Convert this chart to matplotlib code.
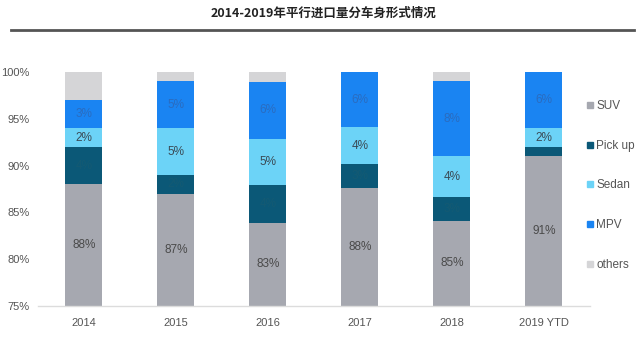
import matplotlib
matplotlib.use("Agg")
import matplotlib.pyplot as plt
from matplotlib.lines import Line2D
import numpy as np

plt.rcParams['font.family'] = ['Liberation Sans', 'Noto Sans CJK SC', 'DejaVu Sans']

categories = ["2014", "2015", "2016", "2017", "2018", "2019 YTD"]
series_names = ["SUV", "Pick up", "Sedan", "MPV", "others"]
suv = [88, 87, 83.9, 87.6, 84.1, 91]
pickup = [4, 2, 4, 2.6, 2.5, 1]
sedan = [2, 5, 5, 3.9, 4.4, 2]
mpv = [3, 5, 6, 5.9, 8, 6]
others = [3, 1, 1.1, 0, 1, 0]

suv_labels = ["88%", "87%", "83%", "88%", "85%", "91%"]
pickup_labels = ["4%", "2%", "4%", "3%", "3%", ""]
sedan_labels = ["2%", "5%", "5%", "4%", "4%", "2%"]
mpv_labels = ["3%", "5%", "6%", "6%", "8%", "6%"]
yticks = [75, 80, 85, 90, 95, 100]
title = "2014-2019年平行进口量分车身形式情况"

colors = ["#a6a8b0", "#0b5877", "#6cd3f7", "#1a84f2", "#d5d5d7"]
label_colors = ["#4a4a4a", "#145a73", "#3a4a55", "#2a6cc0", "#888888"]

fig = plt.figure(figsize=(6.4, 3.4), dpi=100)
ax = fig.add_axes([0.059, 0.10, 0.8625, 0.688])

x = np.arange(len(categories))
data = [suv, pickup, sedan, mpv, others]
labels = [suv_labels, pickup_labels, sedan_labels, mpv_labels, None]
bottom = np.zeros(len(categories))
for vals, col, labs, lc in zip(data, colors, labels, label_colors):
    vals = np.array(vals, dtype=float)
    ax.bar(x, vals, 0.4, bottom=bottom, color=col, linewidth=0)
    if labs is not None:
        for i, (v, lab) in enumerate(zip(vals, labs)):
            if lab:
                cy = bottom[i] + v / 2
                if bottom[i] < 75:
                    cy = (75 + bottom[i] + v) / 2
                ax.text(x[i], cy, lab, ha="center", va="center", fontsize=8.5, color=lc)
    bottom += vals

ax.set_ylim(75, 100)
ax.set_xlim(-0.5, len(categories) - 0.5)
ax.set_yticks(yticks)
ax.set_yticklabels([f"{t}%" for t in yticks], fontsize=8, color="#555555")
ax.set_xticks(x)
ax.set_xticklabels(categories, fontsize=8, color="#555555")
ax.tick_params(axis="both", length=0)
ax.tick_params(axis="x", pad=9)
ax.tick_params(axis="y", pad=6)
for s in ["top", "right", "left"]:
    ax.spines[s].set_visible(False)
ax.spines["bottom"].set_color("#dcdcdc")
ax.spines["bottom"].set_linewidth(1)

handles = [Line2D([0], [0], marker="s", linestyle="", markersize=4.5,
                  markerfacecolor=c, markeredgecolor=c) for c in colors]
leg = fig.legend(handles, series_names, loc="upper left", bbox_to_anchor=(0.908, 0.72),
                 frameon=False, fontsize=8.5, labelspacing=2.35, handletextpad=0.2,
                 handlelength=0.7, borderaxespad=0)
for t in leg.get_texts():
    t.set_color("#555555")

fig.text(0.505, 0.962, title, ha="center", va="center", fontsize=9, fontweight="bold",
         color="#222222", family=["Noto Sans CJK SC", "DejaVu Sans"])
fig.add_artist(Line2D([0.017, 0.99], [0.913, 0.913], color="#555555", linewidth=2))

fig.savefig("out.png", dpi=100, facecolor="white")
